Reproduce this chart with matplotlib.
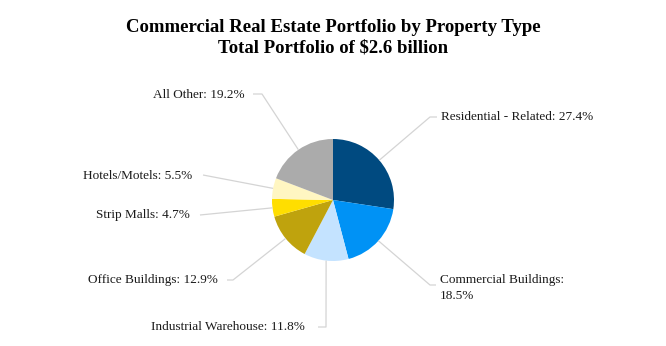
import numpy as np
import matplotlib.pyplot as plt

plt.rcParams['font.family'] = ['Liberation Serif', 'DejaVu Serif']

# Portfolio shares (%), clockwise from 12 o'clock
labels = ['Residential - Related', 'Commercial Buildings', 'Industrial Warehouse',
          'Office Buildings', 'Strip Malls', 'Hotels/Motels', 'All Other']
shares = [27.4, 18.5, 11.8, 12.9, 4.7, 5.5, 19.2]
colors = ['#004a80', '#0092f5', '#c4e3ff', '#bfa30d', '#ffde00', '#fff6c2', '#ababab']

W, H = 666, 346
fig = plt.figure(figsize=(W / 100, H / 100), dpi=100)
ax = fig.add_axes([0, 0, 1, 1])

cx, cy, r = 333, H - 200, 61
wedges, _ = ax.pie(shares, colors=colors, startangle=90, counterclock=False,
                   center=(cx, cy), radius=r, frame=True,
                   wedgeprops=dict(linewidth=0))
ax.set_xlim(0, W)
ax.set_ylim(0, H)
ax.set_aspect('equal')
ax.axis('off')

# label layout: text anchor (px, top-down), alignment, elbow, line end near text
layout = [
    ((441, 117), 'left', (430, 117), (437, 117)),
    ((440, 288), 'left', (430, 285), (436, 285)),
    ((305, 327), 'right', (326, 327), (318, 327)),
    ((218, 280), 'right', (233, 280), (227, 280)),
    ((190, 215), 'right', (200, 215), (200, 215)),
    ((192, 176), 'right', (203, 175), (203, 175)),
    ((245, 95), 'right', (262, 94), (253, 94)),
]

line_col = '#d4d4d4'
for w, lab, val, (tpos, ha, elbow, end) in zip(wedges, labels, shares, layout):
    ang = np.deg2rad((w.theta1 + w.theta2) / 2)
    px, py = cx + r * np.cos(ang), cy + r * np.sin(ang)
    ax.plot([px, elbow[0], end[0]], [py, H - elbow[1], H - end[1]],
            color=line_col, lw=0.9, solid_capstyle='butt')
    text = f'{lab}: {val}%'
    if lab == 'Commercial Buildings':
        text = f'{lab}:\n{val}%'
    ax.text(tpos[0], H - tpos[1], text, ha=ha, va='center', fontsize=9.5,
            color='#1a1a1a', linespacing=1.4)

ax.text(W / 2, H - 28, 'Commercial Real Estate Portfolio by Property Type',
        ha='center', va='center', fontsize=13.5, fontweight='bold', color='black')
ax.text(W / 2, H - 48.5, 'Total Portfolio of $2.6 billion',
        ha='center', va='center', fontsize=13.5, fontweight='bold', color='black')

fig.savefig('out.png', dpi=100, facecolor='white')
